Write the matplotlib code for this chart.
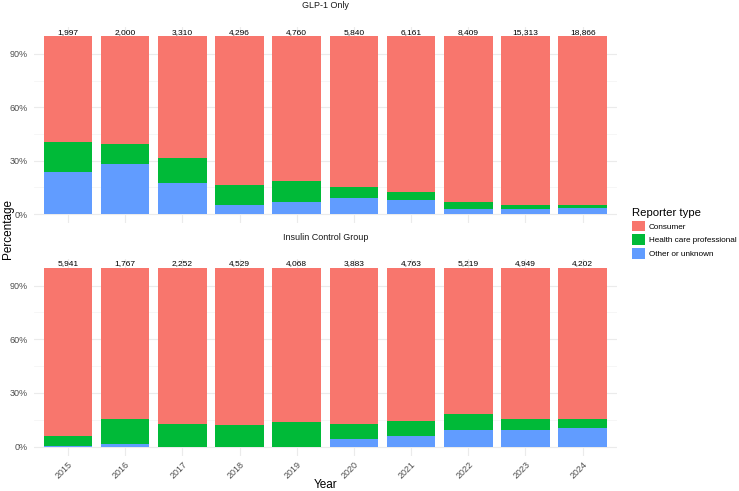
import matplotlib.pyplot as plt
from matplotlib.patches import Patch
import numpy as np

plt.rcParams['font.family'] = ['Liberation Sans', 'DejaVu Sans']

# Datos
years = ["2015", "2016", "2017", "2018", "2019", "2020", "2021", "2022", "2023", "2024"]

glp1_counts = [1997, 2000, 3310, 4296, 4760, 5840, 6161, 8409, 15313, 18866]
glp1_other = [23.4, 28.3, 17.2, 4.9, 6.9, 9.0, 7.9, 3.0, 2.8, 3.4]
glp1_hcp = [17.0, 11.0, 14.3, 11.4, 11.5, 6.2, 4.5, 3.9, 2.4, 1.8]

insulin_counts = [5941, 1767, 2252, 4529, 4068, 3883, 4763, 5219, 4949, 4202]
insulin_other = [0.4, 1.7, 0.0, 0.0, 0.0, 4.3, 6.0, 9.1, 9.5, 10.6]
insulin_hcp = [5.7, 13.8, 12.8, 12.1, 13.8, 8.4, 8.3, 9.0, 6.0, 4.9]

reporter_types = ["Consumer", "Health care professional", "Other or unknown"]
colors = {"Consumer": "#F8766D", "Health care professional": "#00BA38", "Other or unknown": "#619CFF"}

panels = [
    ("GLP-1 Only", glp1_counts, glp1_other, glp1_hcp),
    ("Insulin Control Group", insulin_counts, insulin_other, insulin_hcp),
]

fig = plt.figure(figsize=(7.39, 4.91), dpi=100)
ax_top = fig.add_axes([0.0456, 0.546, 0.7893, 0.3988])
ax_bot = fig.add_axes([0.0456, 0.0721, 0.7893, 0.401])

x = np.arange(len(years))
for ax, (title, counts, other, hcp) in zip([ax_top, ax_bot], panels):
    other = np.array(other)
    hcp = np.array(hcp)
    consumer = 100 - other - hcp
    ax.bar(x, other, width=0.85, color=colors["Other or unknown"], zorder=2)
    ax.bar(x, hcp, bottom=other, width=0.85, color=colors["Health care professional"], zorder=2)
    ax.bar(x, consumer, bottom=other + hcp, width=0.85, color=colors["Consumer"], zorder=2)
    for xi, n in zip(x, counts):
        ax.text(xi, 100.2, f"{n:,}", ha="center", va="bottom", fontsize=6, color="black")

    ax.set_xlim(-0.6, len(years) - 0.4)
    ax.set_ylim(-5, 105)
    ax.set_yticks([0, 30, 60, 90])
    ax.set_yticklabels(["0%", "30%", "60%", "90%"])
    ax.set_yticks([15, 45, 75], minor=True)
    ax.set_xticks(x)
    ax.grid(True, which="major", color="#EBEBEB", linewidth=0.8, zorder=0)
    ax.grid(True, which="minor", axis="y", color="#F3F3F3", linewidth=0.5, zorder=0)
    ax.set_axisbelow(True)
    for s in ax.spines.values():
        s.set_visible(False)
    ax.tick_params(axis="both", which="both", length=0, labelsize=6.5, labelcolor="#4D4D4D")
    ax.tick_params(axis="y", pad=4)
    ax.text(0.5, 1.11, title, transform=ax.transAxes, ha="center", va="center",
            fontsize=6.5, color="#1A1A1A")

ax_top.set_xticklabels([])
ax_bot.set_xticklabels(years, rotation=45, ha="right", rotation_mode="anchor")
ax_bot.tick_params(axis="x", pad=3)

fig.text(0.011, 0.534, "Percentage", rotation=90, ha="center", va="center", fontsize=8.5)
fig.text(0.44, 0.013, "Year", ha="center", va="center", fontsize=8.5)

handles = [Patch(facecolor=colors[r], edgecolor="none") for r in reporter_types]
leg = fig.legend(handles, reporter_types, title="Reporter type", loc="upper left",
                 bbox_to_anchor=(0.845, 0.592), frameon=False, fontsize=5.9,
                 title_fontsize=8.2, handlelength=1.6, handleheight=1.65,
                 handletextpad=0.5, labelspacing=0.35, alignment="left")

plt.savefig("out.png", dpi=100)
